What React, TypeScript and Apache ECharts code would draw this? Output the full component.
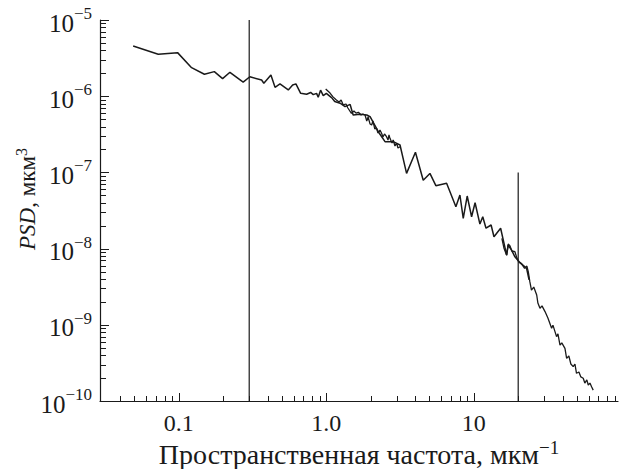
import React, { useEffect, useRef } from "react";
import * as echarts from "echarts";

const FONT = "Liberation Serif";
const INK = "#1a1a1a";

const X_MIN = 0.0292;
const X_MAX = 95;
const Y_MIN = 1e-10;
const Y_MAX = 1e-5;

// Coarse spectrum (wide frequency range)
const coarseSpectrum: [number, number][] = [
  [0.049, 4.56e-6], [0.0725, 3.55e-6], [0.098, 3.73e-6], [0.122, 2.37e-6], [0.149, 1.94e-6],
  [0.174, 2.1e-6], [0.198, 1.7e-6], [0.222, 2.06e-6], [0.273, 1.53e-6], [0.303, 1.8e-6],
  [0.364, 1.63e-6], [0.377, 1.48e-6], [0.421, 1.9e-6], [0.449, 1.31e-6], [0.485, 1.45e-6],
  [0.552, 1.21e-6], [0.591, 1.4e-6], [0.622, 1.45e-6], [0.67, 1.09e-6], [0.735, 1.06e-6],
  [0.783, 1.12e-6], [0.815, 1.05e-6], [0.859, 1.09e-6], [0.881, 9.7e-7], [0.914, 1.2e-6],
  [0.953, 1.02e-6], [1.0, 1.09e-6], [1.09, 9.5e-7], [1.14, 8.5e-7], [1.24, 8.1e-7],
  [1.34, 7.3e-7], [1.45, 7.8e-7], [1.52, 5.67e-7], [1.69, 5.78e-7], [1.88, 5.66e-7],
  [1.98, 5.38e-7], [2.25, 3.42e-7], [2.5, 2.53e-7], [2.84, 2.53e-7], [3.16, 2.29e-7],
  [3.5, 9.7e-8], [4.02, 1.84e-7], [4.54, 7.9e-8], [5.04, 9.7e-8], [5.53, 6.7e-8],
  [6.54, 7.2e-8], [7.56, 3.55e-8], [8.05, 5.05e-8], [8.48, 2.5e-8], [9.02, 4.9e-8],
  [9.66, 2.62e-8], [10.2, 4.0e-8], [11.0, 2.1e-8], [11.5, 2.62e-8], [12.1, 1.85e-8],
  [13.1, 2.04e-8], [13.7, 1.43e-8], [15.2, 1.85e-8], [16.7, 8.2e-9], [17.1, 1.11e-8],
  [18.0, 9.6e-9], [19.0, 7.8e-9], [20.3, 6.7e-9], [22.8, 5.5e-9], [23.7, 3.9e-9],
];

// Fine spectrum, mid frequencies
const fineSpectrumMid: [number, number][] = [
  [0.99, 1.24e-6], [1.06, 1.1e-6], [1.11, 9.8e-7], [1.17, 8.9e-7], [1.22, 8.4e-7],
  [1.26, 8.9e-7], [1.3, 7.7e-7], [1.36, 7.9e-7], [1.4, 7.0e-7], [1.48, 5.97e-7],
  [1.54, 6.4e-7], [1.59, 6.0e-7], [1.65, 6.15e-7], [1.72, 5.66e-7], [1.77, 5.84e-7],
  [1.83, 5.66e-7], [1.88, 4.73e-7], [1.92, 5.33e-7], [1.98, 4.31e-7], [2.03, 4.19e-7],
  [2.07, 4.73e-7], [2.13, 3.72e-7], [2.19, 3.79e-7], [2.24, 3.29e-7], [2.31, 3.6e-7],
  [2.37, 3.26e-7], [2.42, 2.92e-7], [2.48, 3.19e-7], [2.56, 2.94e-7], [2.62, 2.66e-7],
  [2.66, 3.1e-7], [2.7, 2.8e-7], [2.79, 2.43e-7], [2.84, 2.66e-7], [2.92, 2.22e-7],
  [3.0, 2.41e-7], [3.06, 2.09e-7], [3.16, 2.17e-7],
];

// Fine spectrum, high frequencies
const fineSpectrumHigh: [number, number][] = [
  [15.5, 1.36e-8], [16.0, 1.02e-8], [16.7, 8.2e-9], [17.1, 1.15e-8], [17.6, 1.08e-8],
  [18.1, 9.3e-9], [19.0, 9.1e-9], [19.6, 7.5e-9], [20.2, 6.7e-9], [21.1, 6.3e-9],
  [22.1, 5.5e-9], [22.9, 5.9e-9], [23.4, 4.98e-9], [24.0, 3.65e-9], [24.6, 2.86e-9],
  [25.5, 3.13e-9], [26.7, 2.46e-9], [27.2, 1.93e-9], [28.1, 1.65e-9], [29.0, 1.77e-9],
  [30.4, 1.49e-9], [31.8, 1.23e-9], [33.7, 9.0e-10], [34.4, 9.9e-10], [36.4, 7.0e-10],
  [37.2, 7.6e-10], [38.4, 5.4e-10], [39.5, 5.8e-10], [41.5, 4.9e-10], [42.6, 3.63e-10],
  [44.1, 3.9e-10], [45.5, 3.06e-10], [47.2, 2.82e-10], [48.5, 3.06e-10], [49.7, 2.31e-10],
  [51.6, 2.4e-10], [53.2, 2.07e-10], [55.2, 1.99e-10], [56.6, 1.72e-10], [58.4, 1.89e-10],
  [59.7, 1.62e-10], [61.3, 1.72e-10], [62.9, 1.54e-10], [64.5, 1.39e-10],
];

// Vertical cut-off markers
const cutoffLow: [number, number][] = [[0.3, 1e-10], [0.3, 1e-5]];
const cutoffHigh: [number, number][] = [[20, 1e-10], [20, 1e-7]];

// Tick label texts
const xTickLabels: Record<string, string> = { "-1": "0.1", "0": "1.0", "1": "10" };

// Tick positions
const xMajorTicks = [0.1, 1, 10];
const yMajorTicks = [1e-10, 1e-9, 1e-8, 1e-7, 1e-6, 1e-5];
const minorMultipliers = [2, 3, 4, 5, 6, 7, 8, 9];
const xDecades = [0.01, 0.1, 1, 10];
const yDecades = [1e-10, 1e-9, 1e-8, 1e-7, 1e-6];

const isPow = (v: number) => {
  const l = Math.log10(v);
  return Math.abs(l - Math.round(l)) < 1e-6;
};

export default function App() {
  const ref = useRef<HTMLDivElement>(null);

  useEffect(() => {
    if (!ref.current) return;
    const chart = echarts.init(ref.current, null, { renderer: "svg" });

    const lineSeries = (data: [number, number][], width: number) => ({
      type: "line",
      data,
      showSymbol: false,
      symbol: "none",
      lineStyle: { color: INK, width },
      z: 3,
    });

    chart.setOption({
      animation: false,
      grid: { left: 100, right: 9, top: 20, bottom: 68, containLabel: false, outerBoundsMode: "none" },
      xAxis: {
        type: "log",
        min: X_MIN,
        max: X_MAX,
        axisLine: { show: true, lineStyle: { color: INK, width: 1.2 } },
        axisTick: { show: false },
        splitLine: { show: false },
        axisLabel: {
          margin: 10,
          color: INK,
          fontFamily: FONT,
          fontSize: 24,
          formatter: (v: number) => (isPow(v) ? xTickLabels[String(Math.round(Math.log10(v)))] || "" : ""),
        },
        name: "{t|Пространственная частота, мкм}{s|−1}",
        nameLocation: "middle",
        nameGap: 37,
        nameMoveOverlap: false,
        nameTextStyle: {
          color: INK,
          fontFamily: FONT,
          fontSize: 28,
          rich: {
            t: { fontFamily: FONT, fontSize: 28, lineHeight: 32, color: INK },
            s: { fontFamily: FONT, fontSize: 19, lineHeight: 19, color: INK, verticalAlign: "top" },
          },
        },
      },
      yAxis: {
        type: "log",
        min: Y_MIN,
        max: Y_MAX,
        axisLine: { show: true, lineStyle: { color: INK, width: 1.2 } },
        axisTick: { show: false },
        splitLine: { show: false },
        axisLabel: {
          margin: 8,
          color: INK,
          fontFamily: FONT,
          fontSize: 24,
          formatter: (v: number) => {
            if (!isPow(v)) return "";
            const e = Math.round(Math.log10(v));
            return "{b|10}{s|−" + Math.abs(e) + "}";
          },
          rich: {
            b: { fontFamily: FONT, fontSize: 25, lineHeight: 30, color: INK, padding: [6, 0, 0, 0] },
            s: { fontFamily: FONT, fontSize: 17, lineHeight: 17, color: INK, verticalAlign: "top" },
          },
        },
      },
      series: [
        lineSeries(cutoffLow, 1.2),
        lineSeries(cutoffHigh, 1.2),
        lineSeries(coarseSpectrum, 1.5),
        lineSeries(fineSpectrumMid, 1.3),
        lineSeries(fineSpectrumHigh, 1.3),
      ],
    });

    // Tick marks placed through the chart's own coordinate conversion, after layout
    let done = false;
    const drawTicks = () => {
      if (done || chart.isDisposed()) return;
      done = true;
      const toPx = (x: number, y: number) => chart.convertToPixel({ gridIndex: 0 }, [x, y]) as number[];
      const els: any[] = [];
      const addX = (v: number, len: number) => {
        const p = toPx(v, Y_MIN);
        const x = Math.round(p[0]) + 0.5;
        els.push({ type: "line", silent: true, z: 10, shape: { x1: x, y1: p[1], x2: x, y2: p[1] - len }, style: { stroke: INK, lineWidth: 1 } });
      };
      const addY = (v: number, len: number) => {
        const p = toPx(X_MIN, v);
        const y = Math.round(p[1]) + 0.5;
        els.push({ type: "line", silent: true, z: 10, shape: { x1: p[0], y1: y, x2: p[0] + len, y2: y }, style: { stroke: INK, lineWidth: 1 } });
      };
      xMajorTicks.forEach((v) => addX(v, 8));
      xDecades.forEach((d) => minorMultipliers.forEach((m) => {
        const v = d * m;
        if (v > 0.035 && v < X_MAX) addX(v, 5);
      }));
      yMajorTicks.forEach((v) => addY(v, 9));
      yDecades.forEach((d) => minorMultipliers.forEach((m) => addY(d * m, 6)));
      // Y-axis title
      els.push({
        type: "text",
        silent: true,
        z: 10,
        x: 27,
        y: 199,
        rotation: Math.PI / 2,
        style: {
          text: "{i|PSD}{t|, мкм}{s|3}",
          align: "center",
          verticalAlign: "middle",
          fill: INK,
          fontFamily: FONT,
          fontSize: 23,
          rich: {
            i: { fontFamily: FONT, fontSize: 23, lineHeight: 27, fontStyle: "italic", fill: INK },
            t: { fontFamily: FONT, fontSize: 23, lineHeight: 27, fill: INK },
            s: { fontFamily: FONT, fontSize: 16, lineHeight: 16, fill: INK, verticalAlign: "top" },
          },
        },
      });
      chart.setOption({ graphic: els });
    };
    chart.on("finished", drawTicks);
    const timer = setTimeout(drawTicks, 50);

    return () => {
      clearTimeout(timer);
      chart.dispose();
    };
  }, []);

  return (
    <div
      ref={ref}
      style={{ position: "absolute", left: 0, top: 0, width: 627, height: 469, background: "#fff" }}
    />
  );
}
